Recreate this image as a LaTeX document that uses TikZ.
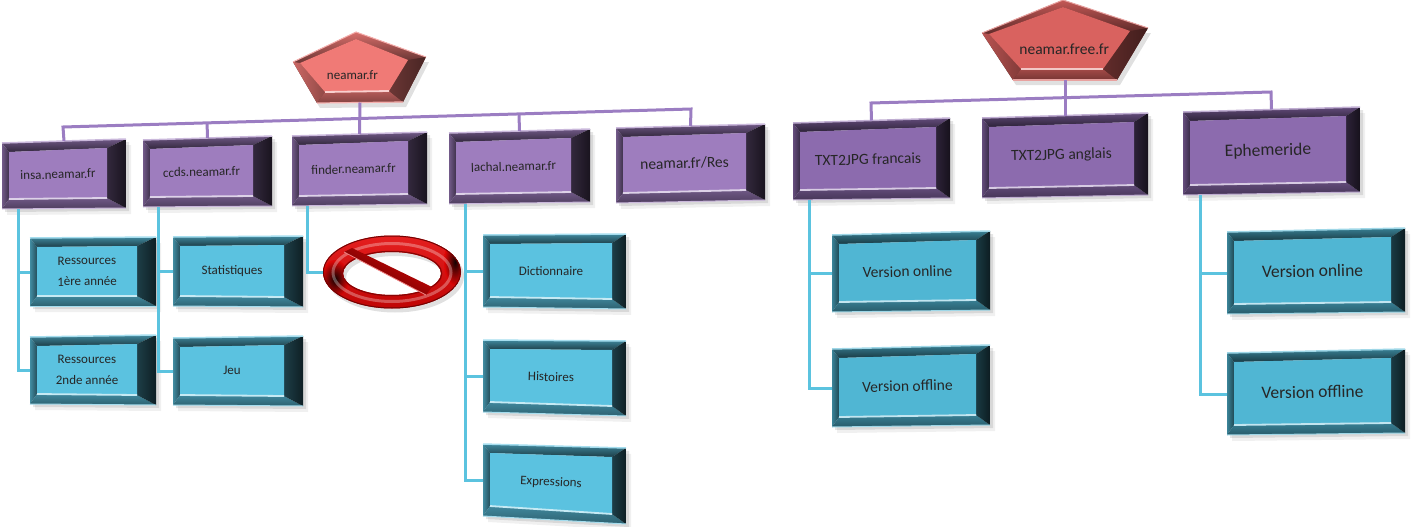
\documentclass[tikz,border=0pt]{standalone}
\usepackage{fontspec}
\setmainfont{Carlito}
\usetikzlibrary{calc,shapes.geometric}
\definecolor{purpleleft}{RGB}{158,125,190}
\definecolor{purpleright}{RGB}{140,107,174}
\definecolor{tealleft}{RGB}{91,194,224}
\definecolor{tealright}{RGB}{80,182,211}
\definecolor{redleft}{RGB}{240,122,118}
\definecolor{redright}{RGB}{217,98,95}
\definecolor{purpleline}{RGB}{155,125,194}
\definecolor{tealline}{RGB}{91,195,223}
\definecolor{signred}{RGB}{226,6,6}
\tikzset{
  smalltext/.style={font=\fontsize{13}{21}\selectfont,text=black!85,align=center},
  midtext/.style={font=\fontsize{15.5}{18}\selectfont,text=black!85},
  bigtext/.style={font=\fontsize{17.5}{20}\selectfont,text=black!85},
  purplelink/.style={purpleline,line width=3pt},
  teallink/.style={tealline,line width=3pt}
}
% name, four corners, face colour, right bevel, text style, text
\newcommand{\bevelbox}[9]{
  \coordinate (#1-tl) at (#2);
  \coordinate (#1-tr) at (#3);
  \coordinate (#1-br) at (#4);
  \coordinate (#1-bl) at (#5);
  \coordinate (#1-itl) at ($(#1-tl)+(7,9)$);
  \coordinate (#1-itr) at ($(#1-tr)+(-#7,9)$);
  \coordinate (#1-ibr) at ($(#1-br)+(-#7,-10)$);
  \coordinate (#1-ibl) at ($(#1-bl)+(7,-10)$);
  \coordinate (#1-n) at ($(#1-tl)!0.5!(#1-tr)$);
  \coordinate (#1-w) at ($(#1-tl)!0.5!(#1-bl)$);
  \fill[black,opacity=0.06] ($(#1-tl)+(5,6)$) -- ($(#1-tr)+(5,6)$) -- ($(#1-br)+(5,6)$) -- ($(#1-bl)+(5,6)$) -- cycle;
  \fill[black,opacity=0.10] ($(#1-tl)+(3,3)$) -- ($(#1-tr)+(3,3)$) -- ($(#1-br)+(3,3)$) -- ($(#1-bl)+(3,3)$) -- cycle;
  \shade[top color=#6!70!black,bottom color=#6!32!black] (#1-tl) -- (#1-tr) -- (#1-itr) -- (#1-itl) -- cycle;
  \shade[left color=#6!72!black,right color=#6!40!black] (#1-tl) -- (#1-itl) -- (#1-ibl) -- (#1-bl) -- cycle;
  \shade[top color=#6!70!black,bottom color=#6!50!black] (#1-ibl) -- (#1-ibr) -- (#1-br) -- (#1-bl) -- cycle;
  \shade[left color=#6!32!black,right color=#6!16!black] (#1-itr) -- (#1-tr) -- (#1-br) -- (#1-ibr) -- cycle;
  \fill[#6] (#1-itl) -- (#1-itr) -- (#1-ibr) -- (#1-ibl) -- cycle;
  \draw[#6!35!white,line width=1.8pt] (#1-ibl) -- (#1-ibr);
  \draw[#6!55!white,line width=1.5pt] (#1-tl) -- (#1-tr);
  \draw[#6!55!white,line width=1pt] (#1-bl) -- (#1-br);
  \path ($(#1-itl)!0.5!(#1-ibl)$) -- node[sloped,#8] (#1) {#9} ($(#1-itr)!0.5!(#1-ibr)$);
}
% name, five corners clockwise from top, face colour, text style, text
\newcommand{\bevelpenta}[9]{
  \coordinate (#1-a) at (#2);
  \coordinate (#1-b) at (#3);
  \coordinate (#1-c) at (#4);
  \coordinate (#1-d) at (#5);
  \coordinate (#1-e) at (#6);
  \coordinate (#1-s) at ($(#1-c)!0.5!(#1-d)$);
  \coordinate (#1-o) at ($(#1-a)!0.61!(#1-s)$);
  \coordinate (#1-ia) at ($(#1-a)+(0,7)$);
  \coordinate (#1-ib) at ($(#1-b)+(-18,3)$);
  \coordinate (#1-ic) at ($(#1-c)+(-14,-11)$);
  \coordinate (#1-id) at ($(#1-d)+(8,-11)$);
  \coordinate (#1-ie) at ($(#1-e)+(7,1)$);
  \fill[black,opacity=0.12] ($(#1-b)+(3,5)$) -- ($(#1-c)+(3,5)$) -- ($(#1-d)+(3,5)$) -- ($(#1-e)+(3,5)$) -- cycle;
  \fill[#7!45!black] (#1-a) -- (#1-b) -- (#1-c) -- (#1-d) -- (#1-e) -- cycle;
  \shade[top color=#7!90!black,bottom color=#7!45!black] (#1-a) -- (#1-b) -- (#1-ib) -- (#1-ia) -- cycle;
  \shade[top color=#7!90!black,bottom color=#7!45!black] (#1-a) -- (#1-e) -- (#1-ie) -- (#1-ia) -- cycle;
  \shade[left color=#7!85!black,right color=#7!60!black] (#1-e) -- (#1-d) -- (#1-id) -- (#1-ie) -- cycle;
  \shade[top color=#7!75!black,bottom color=#7!55!black] (#1-id) -- (#1-ic) -- (#1-c) -- (#1-d) -- cycle;
  \shade[left color=#7!45!black,right color=#7!30!black] (#1-ib) -- (#1-b) -- (#1-c) -- (#1-ic) -- cycle;
  \fill[#7] (#1-ia) -- (#1-ib) -- (#1-ic) -- (#1-id) -- (#1-ie) -- cycle;
  \draw[#7!35!white,line width=1.8pt] (#1-id) -- (#1-ic);
  \draw[#7!60!white,line width=1pt] (#1-e) -- (#1-a) -- (#1-b);
  \draw[#7!60!white,line width=1.2pt] (#1-d) -- (#1-c);
  \node[#8] (#1) at (#1-o) {#9};
}
\begin{document}
\begin{tikzpicture}[x=1pt,y=-1pt]
\useasboundingbox (0,0) rectangle (1413,527);
% Roots
\bevelpenta{neamar}{356,32}{426,57}{403,102}{317,103}{293,62}{redleft}{smalltext,xshift=-6pt}{neamar.fr}
\bevelpenta{free}{1063,0}{1148,28}{1117,80}{1013,80}{982,33}{redright}{midtext}{neamar.free.fr}
% Left row
\bevelbox{insa}{2,143}{126,139}{126,208}{2,209}{purpleleft}{19}{smalltext}{insa.neamar.fr}
\bevelbox{ccds}{143,140}{272,136}{272,206}{143,207}{purpleleft}{19}{smalltext}{ccds.neamar.fr}
\bevelbox{finder}{292,136}{427,132}{427,204}{292,206}{purpleleft}{19}{smalltext}{finder.neamar.fr}
\bevelbox{lachal}{449,133}{590,129}{590,202}{449,204}{purpleleft}{19}{smalltext}{lachal.neamar.fr}
\bevelbox{res}{616,128}{765,124}{765,200}{616,203}{purpleleft}{19}{midtext}{neamar.fr/Res}
% Right row
\bevelbox{txtfr}{793,123}{950,118}{950,198}{793,200}{purpleright}{14}{midtext}{TXT2JPG francais}
\bevelbox{txten}{982,118}{1148,113}{1148,195}{982,198}{purpleright}{14}{midtext}{TXT2JPG anglais}
\bevelbox{ephem}{1183,112}{1360,107}{1360,192}{1183,195}{purpleright}{14}{bigtext}{Ephemeride}
% Left children
\bevelbox{resa}{30,238}{156,237}{156,306}{30,306}{tealleft}{19}{smalltext}{Ressources\\1ère année}
\bevelbox{resb}{30,337}{156,335}{156,405}{30,404}{tealleft}{19}{smalltext}{Ressources\\2nde année}
\bevelbox{stats}{173,237}{303,236}{303,307}{173,306}{tealleft}{19}{smalltext}{Statistiques}
\bevelbox{jeu}{173,338}{303,336}{303,406}{173,405}{tealleft}{19}{smalltext}{Jeu}
\bevelbox{dico}{483,235}{626,234}{626,309}{483,307}{tealleft}{14}{smalltext}{Dictionnaire}
\bevelbox{hist}{483,340}{626,341}{626,416}{483,412}{tealleft}{14}{smalltext}{Histoires}
\bevelbox{expr}{483,444}{626,448}{626,524}{483,516}{tealleft}{14}{smalltext}{Expressions}
% Right children
\bevelbox{onlinea}{832,235}{990,231}{990,310}{832,312}{tealright}{14}{midtext}{Version online}
\bevelbox{offlinea}{832,349}{990,345}{990,425}{832,427}{tealright}{14}{midtext}{Version offline}
\bevelbox{onlineb}{1227,232}{1405,228}{1405,312}{1227,314}{tealright}{14}{bigtext}{Version online}
\bevelbox{offlineb}{1227,353}{1405,349}{1405,433}{1227,435}{tealright}{14}{bigtext}{Version offline}
% Bus lines
\coordinate (busl) at (63,127);
\coordinate (busr) at (691,109);
\coordinate (freel) at (871,103);
\coordinate (freer) at (1271,92);
\draw[purplelink] (insa-n) -- (busl) -- (busr) -- (res-n);
\draw[purplelink] ($(busl)!(ccds-n)!(busr)$) -- (ccds-n);
\draw[purplelink] ($(busl)!(lachal-n)!(busr)$) -- (lachal-n);
\draw[purplelink] (neamar-s) -- (finder-n);
\draw[purplelink] (txtfr-n) -- (freel) -- (freer) -- (ephem-n);
\draw[purplelink] (free-s) -- (txten-n);
% Child links
\coordinate (insatrunk) at (18,209);
\coordinate (ccdstrunk) at (158,207);
\coordinate (findertrunk) at (307,206);
\coordinate (lachaltrunk) at (465,204);
\coordinate (txtfrtrunk) at (809,200);
\coordinate (ephemtrunk) at (1200,195);
\node[ellipse,minimum width=138pt,minimum height=73pt,inner sep=0pt] (nosign) at (392,272) {};
\draw[teallink] (insatrunk) |- (resb-w);
\draw[teallink] (insatrunk |- resa-w) -- (resa-w);
\draw[teallink] (ccdstrunk) |- (jeu-w);
\draw[teallink] (ccdstrunk |- stats-w) -- (stats-w);
\draw[teallink] (findertrunk) |- (nosign.west);
\draw[teallink] (lachaltrunk) |- (expr-w);
\draw[teallink] (lachaltrunk |- dico-w) -- (dico-w);
\draw[teallink] (lachaltrunk |- hist-w) -- (hist-w);
\draw[teallink] (txtfrtrunk) |- (offlinea-w);
\draw[teallink] (txtfrtrunk |- onlinea-w) -- (onlinea-w);
\draw[teallink] (ephemtrunk) |- (offlineb-w);
\draw[teallink] (ephemtrunk |- onlineb-w) -- (onlineb-w);
% Forbidden sign
\begin{scope}[even odd rule]
\fill[black,opacity=0.12] (395,276) ellipse (69 and 36.5) (395,277.5) ellipse (49 and 21.5);
\shade[top color=signred!90!white,bottom color=signred!85!black] (392,272) ellipse (69 and 36.5) (392,273.5) ellipse (49 and 21.5);
\clip (392,272) ellipse (69 and 36.5) (392,273.5) ellipse (49 and 21.5);
\shade[inner color=black,outer color=signred,opacity=0.9] (335,279) ellipse (14 and 19);
\shade[inner color=black,outer color=signred,opacity=0.9] (455,262) ellipse (11 and 24);
\draw[white,opacity=0.3,line width=3pt] (392,272.5) ellipse (59 and 29);
\draw[signred!50!black,line width=1pt] (392,272) ellipse (68.6 and 36);
\draw[signred!60!black,line width=1.5pt] (392,273.5) ellipse (49.5 and 22);
\end{scope}
\shade[top color=signred,bottom color=signred!35!black,shading angle=-30] (344,252) -- (352,248) -- (432,287) -- (426,295) -- cycle;
\draw[signred!50!white,line width=0.8pt] (344,252) -- (426,295);
\end{tikzpicture}
\end{document}
